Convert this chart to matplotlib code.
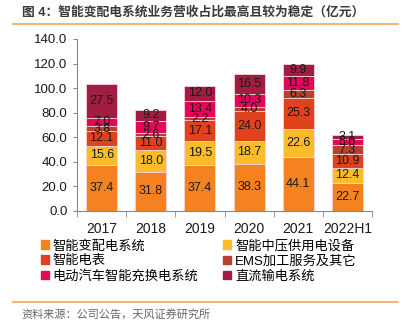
import matplotlib.pyplot as plt
import matplotlib.patches as mpatches
import numpy as np

plt.rcParams['font.family'] = ['Liberation Sans', 'Noto Sans CJK SC']

years = ['2017', '2018', '2019', '2020', '2021', '2022H1']
segments = ['智能变配电系统', '智能中压供用电设备', '智能电表',
            'EMS加工服务及其它', '电动汽车智能充换电系统', '直流输电系统']
dist_sys = [37.4, 31.8, 37.4, 38.3, 44.1, 22.7]
mv_equip = [15.6, 18.0, 19.5, 18.7, 22.6, 12.4]
meters = [12.1, 11.0, 17.1, 24.0, 25.3, 10.9]
ems_other = [3.8, 2.6, 2.2, 4.0, 6.3, 7.3]
ev_charging = [7.0, 9.7, 13.4, 10.3, 11.8, 5.0]
dc_trans = [27.5, 9.2, 12.0, 16.5, 9.9, 3.1]
colors = ['#F58220', '#FBBC2C', '#E0421E', '#B8402E', '#E8065A', '#A11E42']

series = [dist_sys, mv_equip, meters, ems_other, ev_charging, dc_trans]

fig = plt.figure(figsize=(4.06, 3.22), dpi=100)
ax = fig.add_axes([0.19, 0.345, 0.726, 0.534])

x = np.arange(len(years))
bottom = np.zeros(len(years))
handles = []
for vals, name, c in zip(series, segments, colors):
    vals = np.array(vals)
    ax.bar(x, vals, 0.63, bottom=bottom, color=c, edgecolor='#f4d6d6', linewidth=0.6)
    for xi, b, v in zip(x, bottom, vals):
        ax.text(xi, b + v / 2, f'{v:.1f}', ha='center', va='center',
                fontsize=9, color='#1a1a1a')
    bottom += vals
    handles.append(mpatches.Patch(color=c, label=name))

ax.set_xlim(-0.5, 5.5)
ax.set_ylim(0, 140)
ax.set_yticks(np.arange(0, 141, 20))
ax.set_yticklabels([f'{t:.1f}' for t in range(0, 141, 20)])
ax.set_xticks(x)
ax.set_xticklabels(years)
ax.set_xticks(np.arange(-0.5, 6, 1), minor=True)
ax.tick_params(axis='x', which='major', length=0, pad=8, labelsize=10, colors='#1a1a1a')
ax.tick_params(axis='x', which='minor', length=4, color='#888888')
ax.tick_params(axis='y', length=3, color='#888888', labelsize=9.5, labelcolor='#1a1a1a', pad=4)
for s in ['top', 'right']:
    ax.spines[s].set_visible(False)
for s in ['left', 'bottom']:
    ax.spines[s].set_color('#888888')
    ax.spines[s].set_linewidth(0.8)

order = [0, 2, 4, 1, 3, 5]
fig.legend([handles[i] for i in order], [segments[i] for i in order],
           ncol=2, loc='upper left', bbox_to_anchor=(0.1, 0.256),
           frameon=False, fontsize=9.5, handlelength=0.6, handleheight=0.6,
           handletextpad=0.3, columnspacing=1.9, labelspacing=0.2,
           borderaxespad=0, borderpad=0)

fig.text(0.054, 0.962, '图 4：智能变配电系统业务营收占比最高且较为稳定（亿元）',
         fontsize=9.2, fontweight='semibold', color='#3a3a3a', va='center')
fig.add_artist(plt.Line2D([0.032, 0.98], [0.925, 0.925], color='#F7A35C', linewidth=1.2))
fig.add_artist(plt.Line2D([0.032, 0.98], [0.062, 0.062], color='#F7A35C', linewidth=1.2))
fig.text(0.054, 0.024, '资料来源：公司公告，天风证券研究所', fontsize=8, color='#666666', va='center')

fig.savefig('out.png', dpi=100)
